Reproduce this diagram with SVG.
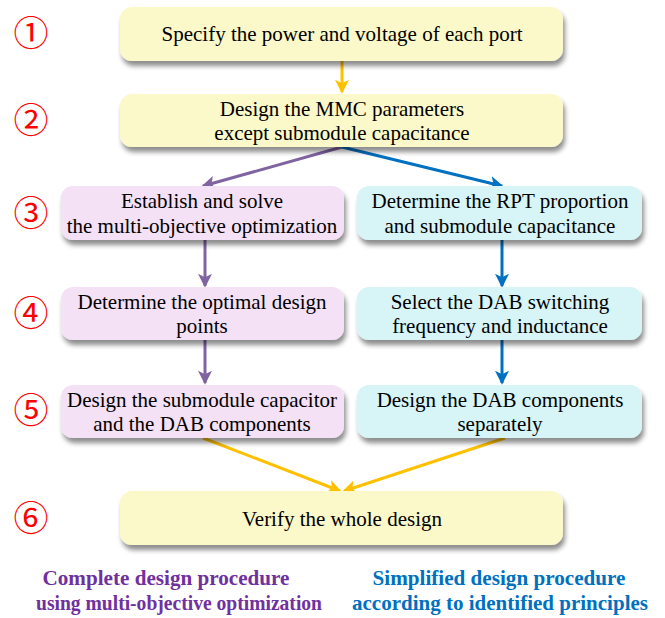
<svg xmlns="http://www.w3.org/2000/svg" width="665" height="618" viewBox="0 0 665 618">
<defs>
<filter id="sh" x="-10%" y="-20%" width="125%" height="160%">
<feGaussianBlur in="SourceAlpha" stdDeviation="2.5"/>
<feOffset dx="2" dy="5" result="b"/>
<feComponentTransfer><feFuncA type="linear" slope="0.45"/></feComponentTransfer>
<feMerge><feMergeNode/><feMergeNode in="SourceGraphic"/></feMerge>
</filter>
<marker id="mp" viewBox="0 0 8 8" markerWidth="14" markerHeight="14" refX="7" refY="4" orient="auto" markerUnits="userSpaceOnUse"><path d="M0,0 L8,4 L0,8 L2,4 Z" fill="#8064A2"/></marker>
<marker id="mb" viewBox="0 0 8 8" markerWidth="14" markerHeight="14" refX="7" refY="4" orient="auto" markerUnits="userSpaceOnUse"><path d="M0,0 L8,4 L0,8 L2,4 Z" fill="#0070C0"/></marker>
<marker id="my" viewBox="0 0 8 8" markerWidth="14" markerHeight="14" refX="7" refY="4" orient="auto" markerUnits="userSpaceOnUse"><path d="M0,0 L8,4 L0,8 L2,4 Z" fill="#FFC000"/></marker>
</defs>
<style>
.t{font-family:"Liberation Serif","Times New Roman",serif;font-size:21px;fill:#000;text-anchor:middle}
.n{font-family:"Noto Sans CJK SC","DejaVu Sans",sans-serif;font-size:35px;fill:#FF0000;text-anchor:middle}
.y{fill:#FBF8C9}
.p{fill:#F4E1F5}
.c{fill:#D7F4F7}
.lg{font-family:"Liberation Serif","Times New Roman",serif;font-size:22px;font-weight:bold;text-anchor:middle}
.cn{fill:none;stroke-width:3}
</style>
<g id="nums">
<text class="n" x="31" y="46">①</text>
<text class="n" x="31" y="133">②</text>
<text class="n" x="31" y="226">③</text>
<text class="n" x="31" y="326">④</text>
<text class="n" x="31" y="423">⑤</text>
<text class="n" x="31" y="531">⑥</text>
</g>
<g id="connectors">
<line class="cn" x1="342" y1="61" x2="342" y2="92" stroke="#FFC000" marker-end="url(#my)"/>
<line class="cn" x1="342" y1="147" x2="203" y2="186" stroke="#8064A2" marker-end="url(#mp)"/>
<line class="cn" x1="342" y1="147" x2="502" y2="186" stroke="#0070C0" marker-end="url(#mb)"/>
<line class="cn" x1="205" y1="240" x2="205" y2="286" stroke="#8064A2" marker-end="url(#mp)"/>
<line class="cn" x1="502" y1="240" x2="502" y2="286" stroke="#0070C0" marker-end="url(#mb)"/>
<line class="cn" x1="205" y1="340" x2="205" y2="383" stroke="#8064A2" marker-end="url(#mp)"/>
<line class="cn" x1="502" y1="340" x2="502" y2="383" stroke="#0070C0" marker-end="url(#mb)"/>
<line class="cn" x1="203" y1="438" x2="340" y2="491" stroke="#FFC000" marker-end="url(#my)"/>
<line class="cn" x1="505" y1="438" x2="344" y2="491" stroke="#FFC000" marker-end="url(#my)"/>
</g>
<g id="n1"><rect class="y" x="120" y="7" width="443" height="54" rx="12" filter="url(#sh)"/><text class="t" x="342" y="41">Specify the power and voltage of each port</text></g>
<g id="n2"><rect class="y" x="120" y="94" width="443" height="53" rx="12" filter="url(#sh)"/><text class="t" x="342" y="116">Design the MMC parameters</text><text class="t" x="342" y="140">except submodule capacitance</text></g>
<g id="n3l"><rect class="p" x="61" y="186" width="283" height="54" rx="12" filter="url(#sh)"/><text class="t" x="202" y="208">Establish and solve</text><text class="t" x="202" y="233">the multi-objective optimization</text></g>
<g id="n3r"><rect class="c" x="357" y="186" width="285" height="54" rx="12" filter="url(#sh)"/><text class="t" x="500" y="208">Determine the RPT proportion</text><text class="t" x="500" y="233">and submodule capacitance</text></g>
<g id="n4l"><rect class="p" x="61" y="287" width="283" height="53" rx="12" filter="url(#sh)"/><text class="t" x="202" y="309">Determine the optimal design</text><text class="t" x="202" y="333">points</text></g>
<g id="n4r"><rect class="c" x="357" y="287" width="285" height="53" rx="12" filter="url(#sh)"/><text class="t" x="500" y="309">Select the DAB switching</text><text class="t" x="500" y="333">frequency and inductance</text></g>
<g id="n5l"><rect class="p" x="61" y="385" width="283" height="53" rx="12" filter="url(#sh)"/><text class="t" x="202" y="407">Design the submodule capacitor</text><text class="t" x="202" y="431">and the DAB components</text></g>
<g id="n5r"><rect class="c" x="357" y="385" width="285" height="53" rx="12" filter="url(#sh)"/><text class="t" x="500" y="407">Design the DAB components</text><text class="t" x="500" y="431">separately</text></g>
<g id="n6"><rect class="y" x="120" y="491" width="443" height="54" rx="12" filter="url(#sh)"/><text class="t" x="342" y="526">Verify the whole design</text></g>
<g id="legend">
<text class="lg" x="166" y="585" fill="#7030A0" textLength="247" lengthAdjust="spacingAndGlyphs">Complete design procedure</text>
<text class="lg" x="179" y="610" fill="#7030A0" textLength="286" lengthAdjust="spacingAndGlyphs">using multi-objective optimization</text>
<text class="lg" x="499" y="585" fill="#0070C0" textLength="253" lengthAdjust="spacingAndGlyphs">Simplified design procedure</text>
<text class="lg" x="500" y="610" fill="#0070C0" textLength="296" lengthAdjust="spacingAndGlyphs">according to identified principles</text>
</g>
</svg>
